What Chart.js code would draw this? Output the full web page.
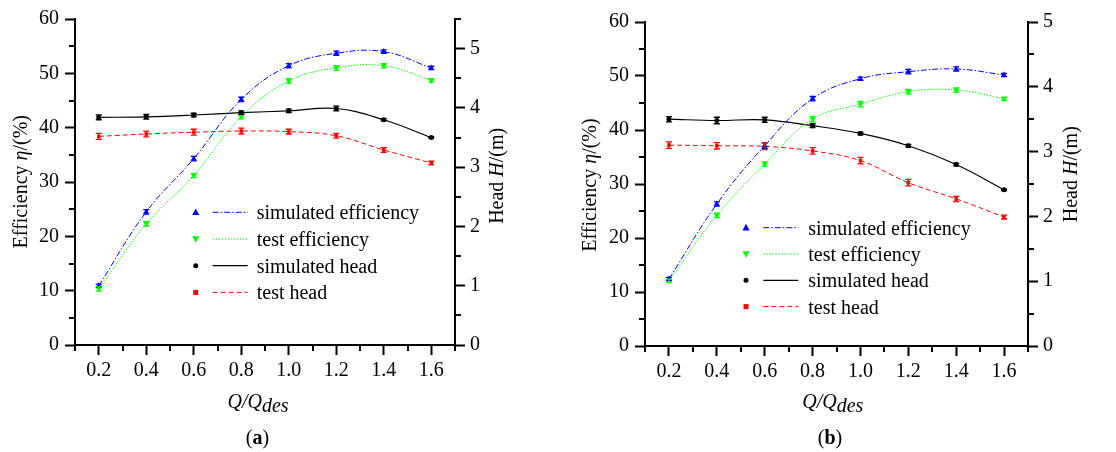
<!DOCTYPE html>
<html>
<head>
<meta charset="utf-8">
<script src="https://cdn.jsdelivr.net/npm/chart.js@4.4.1/dist/chart.umd.min.js"></script>
<style>
  body { margin: 0; background: #fff; }
  .row { display: flex; width: 1116px; height: 452px; }
  canvas { display: block; }
</style>
</head>
<body>
<div class="row">
  <canvas id="chart-a" width="558" height="452"></canvas>
  <canvas id="chart-b" width="558" height="452"></canvas>
</div>
<script>
// ---- data ----
const flowRatio = [0.2, 0.4, 0.6, 0.8, 1.0, 1.2, 1.4, 1.6];

// panel (a)
const simEffA  = [10.9, 24.5, 34.3, 45.2, 51.4, 53.7, 54.0, 51.0];
const testEffA = [10.3, 22.3, 31.2, 42.0, 48.6, 51.0, 51.4, 48.7];
const simHeadA  = [3.84, 3.85, 3.88, 3.92, 3.95, 3.99, 3.80, 3.50];
const testHeadA = [3.52, 3.56, 3.59, 3.61, 3.60, 3.53, 3.29, 3.07];
const simEffErrA  = [0.3, 0.4, 0.4, 0.4, 0.4, 0.4, 0.3, 0.3];
const testEffErrA = [0.4, 0.4, 0.4, 0.4, 0.4, 0.4, 0.4, 0.3];
const simHeadErrA  = [0.04, 0.04, 0.03, 0.03, 0.03, 0.04, 0.02, 0.01];
const testHeadErrA = [0.05, 0.05, 0.05, 0.05, 0.04, 0.04, 0.04, 0.03];

// panel (b)
const simEffB  = [12.4, 26.3, 37.1, 45.8, 49.5, 50.8, 51.3, 50.2];
const testEffB = [12.1, 24.2, 33.7, 42.0, 44.8, 47.1, 47.4, 45.8];
const simHeadB  = [3.50, 3.48, 3.49, 3.40, 3.28, 3.09, 2.80, 2.41];
const testHeadB = [3.10, 3.09, 3.08, 3.01, 2.86, 2.52, 2.27, 1.99];
const simEffErrB  = [0.3, 0.4, 0.5, 0.4, 0.3, 0.4, 0.4, 0.3];
const testEffErrB = [0.3, 0.4, 0.4, 0.5, 0.5, 0.4, 0.4, 0.3];
const simHeadErrB  = [0.04, 0.05, 0.04, 0.03, 0.02, 0.02, 0.02, 0.01];
const testHeadErrB = [0.05, 0.05, 0.05, 0.05, 0.05, 0.05, 0.04, 0.03];

const seriesNames = ['simulated efficiency', 'test efficiency', 'simulated head', 'test head'];

// ---- styling ----
const SERIF = "'Liberation Serif', 'Times New Roman', serif";
const tickFont = { family: SERIF, size: 20 };

// which tick values get a label and a long tick
const majorTest = {
  x: v => Math.round(v * 10) % 2 === 0,
  y: v => Math.round(v) % 10 === 0,
  y2: v => Math.abs(v - Math.round(v)) < 1e-6,
};

function drawMarker(ctx, style, x, y, r, rotation) {
  ctx.beginPath();
  if (style === 'circle') {
    ctx.arc(x, y, r, 0, Math.PI * 2);
  } else if (style === 'rect') {
    ctx.rect(x - r, y - r, r * 2, r * 2);
  } else {
    const s = rotation === 180 ? -1 : 1;
    ctx.moveTo(x, y - s * r * 1.1);
    ctx.lineTo(x - r, y + s * r * 0.8);
    ctx.lineTo(x + r, y + s * r * 0.8);
    ctx.closePath();
  }
  ctx.fill();
}

function drawRich(ctx, parts, x, y, angle) {
  ctx.save();
  ctx.translate(x, y);
  if (angle) ctx.rotate(angle);
  ctx.textBaseline = 'alphabetic';
  ctx.textAlign = 'left';
  let total = 0;
  parts.forEach(p => { ctx.font = p.font; total += ctx.measureText(p.text).width; });
  let pos = -total / 2;
  parts.forEach(p => {
    ctx.font = p.font;
    ctx.fillText(p.text, pos, p.dy || 0);
    pos += ctx.measureText(p.text).width;
  });
  ctx.restore();
}

// error bars from the dataset's "errors" list
const errorBars = {
  id: 'errorBars',
  afterDatasetsDraw(chart) {
    const ctx = chart.ctx;
    chart.data.datasets.forEach((ds, i) => {
      if (!ds.errors) return;
      const meta = chart.getDatasetMeta(i);
      const ys = chart.scales[ds.yAxisID];
      ctx.save();
      ctx.strokeStyle = ds.borderColor;
      ctx.lineWidth = 1.3;
      meta.data.forEach((pt, j) => {
        const v = ds.data[j].y, e = ds.errors[j];
        const top = ys.getPixelForValue(v + e), bot = ys.getPixelForValue(v - e);
        ctx.beginPath();
        ctx.moveTo(pt.x, top); ctx.lineTo(pt.x, bot);
        ctx.moveTo(pt.x - 3, top); ctx.lineTo(pt.x + 3, top);
        ctx.moveTo(pt.x - 3, bot); ctx.lineTo(pt.x + 3, bot);
        ctx.stroke();
      });
      ctx.restore();
    });
  }
};

// shorter minor ticks (major ones are drawn by Chart.js)
const minorTicks = {
  id: 'minorTicks',
  afterDraw(chart) {
    const ctx = chart.ctx, area = chart.chartArea;
    ctx.save();
    ctx.strokeStyle = '#000';
    ctx.lineWidth = 2;
    Object.values(chart.scales).forEach(sc => {
      const isMajor = majorTest[sc.id];
      sc.ticks.forEach(t => {
        if (isMajor(t.value)) return;
        const p = Math.round(sc.getPixelForValue(t.value));
        ctx.beginPath();
        if (sc.id === 'x') { ctx.moveTo(p, area.bottom); ctx.lineTo(p, area.bottom + 6); }
        else if (sc.id === 'y') { ctx.moveTo(area.left, p); ctx.lineTo(area.left - 6, p); }
        else { ctx.moveTo(area.right, p); ctx.lineTo(area.right + 6, p); }
        ctx.stroke();
      });
    });
    ctx.restore();
  }
};

// axis titles, caption and the legend
const panelText = {
  id: 'panelText',
  afterDraw(chart) {
    const opts = chart.$panelText;
    const ctx = chart.ctx, a = chart.chartArea;
    const n = `20px ${SERIF}`, it = `italic 20px ${SERIF}`, b = `bold 20px ${SERIF}`;
    ctx.save();
    ctx.fillStyle = '#000';
    drawRich(ctx, [{ text: 'Efficiency ', font: n }, { text: 'η', font: it }, { text: '/(%)', font: n }],
      a.left + opts.yTitle.dx, opts.yTitle.cy, -Math.PI / 2);
    drawRich(ctx, [{ text: 'Head ', font: n }, { text: 'H', font: it }, { text: '/(m)', font: n }],
      a.right + opts.y2Title.dx, opts.y2Title.cy, -Math.PI / 2);
    drawRich(ctx, [{ text: 'Q/Q', font: it }, { text: 'des', font: it, dy: 3.5 }],
      opts.xTitle.cx, a.bottom + opts.xTitle.dy, 0);
    drawRich(ctx, [{ text: '(', font: n }, { text: opts.caption, font: b }, { text: ')', font: n }],
      opts.captionPos.cx, a.bottom + opts.captionPos.dy, 0);

    // legend
    const lg = opts.legend;
    chart.data.datasets.forEach((ds, i) => {
      const x = a.left + lg.dx, y = a.top + lg.dy + i * lg.gap;
      ctx.fillStyle = ds.pointBackgroundColor;
      drawMarker(ctx, ds.pointStyle, x, y, ds.pointRadius, ds.pointRotation);
      ctx.strokeStyle = ds.borderColor;
      ctx.lineWidth = ds.borderWidth;
      ctx.setLineDash(ds.borderDash || []);
      ctx.beginPath();
      ctx.moveTo(x + lg.lineStart, y); ctx.lineTo(x + lg.lineStart + lg.lineLen, y);
      ctx.stroke();
      ctx.setLineDash([]);
      ctx.fillStyle = '#000';
      ctx.font = n;
      ctx.textBaseline = 'alphabetic';
      ctx.textAlign = 'left';
      ctx.fillText(ds.label, x + lg.textX, y + 7);
    });
    ctx.restore();
  }
};

function pts(ys) { return flowRatio.map((x, i) => ({ x, y: ys[i] })); }

function makeDatasets(simEff, testEff, simHead, testHead, errs) {
  return [
    { label: seriesNames[0], data: pts(simEff), errors: errs[0], yAxisID: 'y',
      borderColor: '#0000ff', pointBackgroundColor: '#0000ff', borderWidth: 1,
      borderDash: [6, 2, 1.5, 2], pointStyle: 'triangle', pointRadius: 3.5, pointRotation: 0 },
    { label: seriesNames[1], data: pts(testEff), errors: errs[1], yAxisID: 'y',
      borderColor: '#00ff00', pointBackgroundColor: '#00ff00', borderWidth: 1,
      borderDash: [1.5, 1.5], pointStyle: 'triangle', pointRadius: 3.5, pointRotation: 180 },
    { label: seriesNames[2], data: pts(simHead), errors: errs[2], yAxisID: 'y2',
      borderColor: '#000000', pointBackgroundColor: '#000000', borderWidth: 1.2,
      borderDash: [], pointStyle: 'circle', pointRadius: 2.5, pointRotation: 0 },
    { label: seriesNames[3], data: pts(testHead), errors: errs[3], yAxisID: 'y2',
      borderColor: '#ff0000', pointBackgroundColor: '#ff0000', borderWidth: 1,
      borderDash: [5, 3], pointStyle: 'rect', pointRadius: 2.5, pointRotation: 0 },
  ].map(d => Object.assign(d, { pointBorderColor: d.borderColor, pointBorderWidth: 0,
    tension: 0.4, fill: false }));
}

function axisY(id, position, max, step, width, pad) {
  const isMajor = majorTest[id];
  return {
    type: 'linear', position, min: 0, max,
    afterFit: s => { s.width = width; },
    border: { color: '#000', width: 2 },
    grid: { drawOnChartArea: false, tickLength: 10, tickWidth: 2,
      tickColor: c => isMajor(c.tick.value) ? '#000' : 'rgba(0,0,0,0)' },
    ticks: { stepSize: step, autoSkip: false, padding: pad, color: '#000', font: tickFont,
      callback: v => isMajor(v) ? String(Math.round(v)) : '' }
  };
}

function makeChart(id, datasets, layout) {
  const chart = new Chart(document.getElementById(id), {
    type: 'line',
    data: { datasets },
    plugins: [errorBars, minorTicks, panelText],
    options: {
      responsive: false, animation: false, devicePixelRatio: 1,
      layout: { padding: { top: layout.top, left: 0, right: 0, bottom: 0 } },
      scales: {
        x: {
          type: 'linear', position: 'bottom', min: 0.1, max: 1.7,
          afterFit: s => { s.height = layout.xHeight; },
          border: { color: '#000', width: 2 },
          grid: { drawOnChartArea: false, tickLength: 10, tickWidth: 2,
            tickColor: c => majorTest.x(c.tick.value) ? '#000' : 'rgba(0,0,0,0)' },
          ticks: { stepSize: 0.1, autoSkip: false, maxRotation: 0, padding: 4, color: '#000',
            font: tickFont, callback: v => majorTest.x(v) ? v.toFixed(1) : '' }
        },
        y: axisY('y', 'left', 60, 5, layout.leftWidth, 6),
        y2: axisY('y2', 'right', layout.headMax, 0.5, layout.rightWidth, 5)
      },
      plugins: {
        legend: { display: false },
        tooltip: { enabled: false }
      }
    }
  });
  return chart;
}

// text layout is attached before the first draw through a tiny plugin hook
function build(id, datasets, layout) {
  Chart.register({ id: 'pt_' + id, beforeInit(chart) { if (chart.canvas.id === id) chart.$panelText = layout.text; } });
  return makeChart(id, datasets, layout);
}

build('chart-a',
  makeDatasets(simEffA, testEffA, simHeadA, testHeadA, [simEffErrA, testEffErrA, simHeadErrA, testHeadErrA]),
  { top: 19, leftWidth: 75, rightWidth: 103, xHeight: 107, headMax: 5.5,
    text: { caption: 'a',
      yTitle: { dx: -47.8, cy: 181.7 }, y2Title: { dx: 48.3, cy: 175.8 },
      xTitle: { cx: 258, dy: 63 }, captionPos: { cx: 257.5, dy: 99 },
      legend: { dx: 120.7, dy: 193.3, gap: 26.7, lineStart: 17, lineLen: 35, textX: 61 } } });

build('chart-b',
  makeDatasets(simEffB, testEffB, simHeadB, testHeadB, [simEffErrB, testEffErrB, simHeadErrB, testHeadErrB]),
  { top: 22, leftWidth: 87, rightWidth: 88, xHeight: 106, headMax: 5,
    text: { caption: 'b',
      yTitle: { dx: -48.8, cy: 185 }, y2Title: { dx: 48.9, cy: 174.2 },
      xTitle: { cx: 274.8, dy: 62 }, captionPos: { cx: 272, dy: 98 },
      legend: { dx: 101, dy: 205.7, gap: 26.3, lineStart: 17.3, lineLen: 35, textX: 62.3 } } });
</script>
</body>
</html>
